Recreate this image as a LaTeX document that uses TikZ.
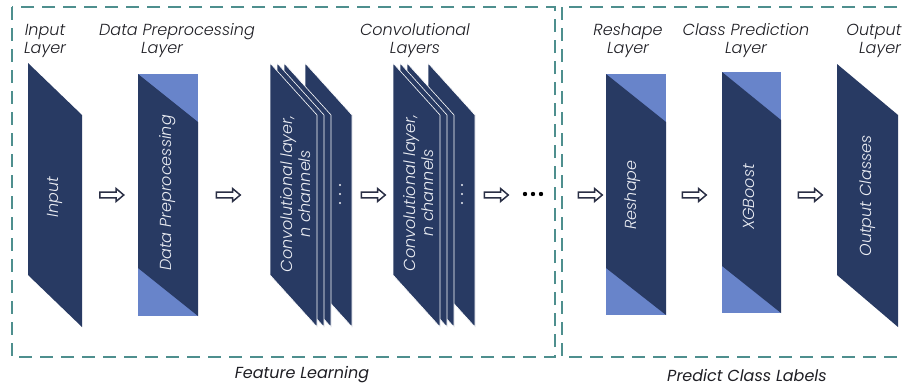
\documentclass[tikz,border=0pt]{standalone}
\usepackage{fontspec}
\setmainfont{Poppins}[UprightFont=*-Light,ItalicFont=*-LightItalic]
\newfontfamily\capfont{Poppins}
\usetikzlibrary{shapes.arrows}

\definecolor{navy}{HTML}{283A63}
\definecolor{steel}{HTML}{6884CA}
\definecolor{teal}{HTML}{4E8F8E}
\definecolor{ink}{HTML}{1E1E24}
\definecolor{arrowc}{HTML}{2A2F45}
\definecolor{paper}{HTML}{ECEEF4}

\tikzset{
  dark/.style={fill=navy},
  lite/.style={fill=steel},
  sheet/.style={fill=navy, draw=white, line width=0.6pt, line join=miter},
  group/.style={draw=teal, line width=2.4pt, dash pattern=on 13pt off 8pt},
  title/.style={align=center, text=ink, font=\itshape\fontsize{16}{18}\selectfont, inner sep=0pt},
  inside/.style={align=center, text=paper, rotate=90, font=\itshape\fontsize{16}{18}\selectfont, inner sep=0pt},
  caption/.style={text=ink, font=\capfont\itshape\fontsize{16}{18}\selectfont, inner sep=0pt},
  flow/.style={single arrow, draw=arrowc, fill=white, line width=1.5pt,
    minimum height=24pt, inner sep=2.2pt, single arrow head extend=3.5pt,
    single arrow tip angle=80, anchor=center},
}

\begin{document}
\begin{tikzpicture}[x=1pt,y=-1pt]
\useasboundingbox (0,0) rectangle (903,391);
\fill[white] (0,0) rectangle (903,391);

% group frames
\draw[group] (12,7) rectangle (555,357);
\draw[group] (562,7) rectangle (915,357);

% input layer
\path[dark] (28,63) -- (82,115) -- (82,327) -- (28,275) -- cycle;
% data preprocessing layer
\path[lite] (138,74) rectangle (198,316);
\path[dark] (138,74) -- (198,122) -- (198,316) -- (138,268) -- cycle;

% convolutional stacks, back sheet first
\foreach \L in {270,393}{
  \foreach \o in {35,14,7,0}{
    \path[sheet] (\L+\o,63) -- ++(47,52) -- ++(0,212) -- ++(-47,-52) -- cycle;
  }
}
\foreach \x in {340,462}{
  \foreach \y in {185,194,203}{
    \fill[paper] (\x,\y) circle (1.1pt);
  }
}

% reshape layer
\path[lite] (606,74) rectangle (666,315);
\path[dark] (606,74) -- (666,122) -- (666,315) -- (606,268) -- cycle;
% class prediction layer
\path[lite] (722,72) rectangle (781,313);
\path[dark] (722,72) -- (781,120) -- (781,313) -- (722,266) -- cycle;
% output layer
\path[dark] (837,64) -- (898,115) -- (898,327) -- (837,275) -- cycle;

% texts inside the layers
\node[inside] (tin)  at (55,197)  {Input};
\node[inside] (tdp)  at (168,193) {Data Preprocessing};
\node[inside] (tc1)  at (296,194) {Convolutional layer,\\ n channels};
\node[inside] (tc2)  at (419,193) {Convolutional layer,\\ n channels};
\node[inside] (trs)  at (633,195) {Reshape};
\node[inside] (txg)  at (749,197) {XGBoost};
\node[inside] (tout) at (868,196) {Output Classes};

% layer titles
\node[title] (hin)  at (45,41)  {Input\\Layer};
\node[title] (hdp)  at (177,41) {Data Preprocessing\\\hspace*{-30pt}Layer};
\node[title] (hcv)  at (415,41) {Convolutional\\Layers};
\node[title] (hrs)  at (628,41) {Reshape\\Layer};
\node[title] (hcp)  at (746,41) {Class Prediction\\Layer};
\node[title] (hout) at (874,41) {Output\\\hspace*{12pt}Layer};

% flow arrows
\node[flow] (a1) at (110,195) {};
\node[flow] (a2) at (226.5,195) {};
\node[flow] (a3) at (371.5,195) {};
\node[flow] (a4) at (494.5,195) {};
\node[flow] (a5) at (588.5,195) {};
\node[flow] (a6) at (692.5,195) {};
\node[flow] (a7) at (808.5,195) {};

% continuation dots
\foreach \x in {525,533,541}{
  \fill[black] (\x,194) circle (2.2pt);
}

% group captions
\node[caption] (cfl) at (302,375) {Feature Learning};
\node[caption] (cpc) at (747,375) {Predict Class Labels};
\end{tikzpicture}
\end{document}
